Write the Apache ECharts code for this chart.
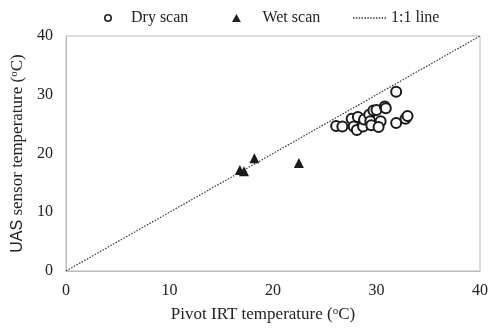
<!DOCTYPE html>
<html><head><meta charset="utf-8">
<script src="https://cdn.jsdelivr.net/npm/echarts@6/dist/echarts.min.js"></script>
<style>html,body{margin:0;padding:0;background:#fff}#c{width:491px;height:328px}</style>
</head><body><div id="c"></div>
<script>
const dryScan = [
  [31.9,30.5],[26.1,24.7],[26.7,24.6],[27.6,25.9],[27.8,24.6],[28.2,26.2],[28.1,24.0],
  [28.7,24.6],[28.8,25.8],[29.3,26.6],[29.4,25.5],[29.7,27.3],[30.0,27.4],[29.5,24.8],
  [30.4,25.5],[30.2,24.5],[30.8,28.0],[30.9,27.7],[31.9,25.2],[32.8,25.9],[33.0,26.4]
];
const wetScan = [[16.8,17.2],[17.2,17.0],[18.2,19.2],[22.5,18.4]];
const oneToOne = [[0,0],[40,40]];
const xTicks = [0,10,20,30,40];
const yTicks = [0,10,20,30,40];
const fontFam = '"Liberation Serif","Times New Roman",serif';
const sansFam = '"Liberation Sans",Arial,sans-serif';

let dots = '';
for (let i = 0; i < 12; i++) { dots += 'M' + (i*2.6) + ',0h1.3v1.3h-1.3z '; }
const dotIcon = 'path://' + dots;
const ringIcon = 'path://M0,5a5,5 0 1,0 10,0a5,5 0 1,0 -10,0Z M2,5a3,3 0 1,1 6,0a3,3 0 1,1 -6,0Z';
const triIcon = 'path://M5,0L10,9L0,9Z';

const legTxt = {fontFamily:fontFam,fontSize:16,color:'#222'};
const supRich = {
  s:{fontSize:11,verticalAlign:'top',lineHeight:11,padding:[0,0,6,0],fontFamily:fontFam,color:'#222'},
  a:{fontSize:16,fontFamily:sansFam,color:'#222'}
};

const chart = echarts.init(document.getElementById('c'));
chart.setOption({
  animation:false,
  textStyle:{fontFamily:fontFam,color:'#222'},
  legend:[
    {top:10,left:104,padding:0,itemWidth:36,itemHeight:8,selectedMode:false,textStyle:legTxt,
     data:[{name:'Dry scan',icon:ringIcon,itemStyle:{color:'#222',borderWidth:0}}]},
    {top:10,left:232,padding:0,itemWidth:42,itemHeight:8,selectedMode:false,textStyle:legTxt,
     data:[{name:'Wet scan',icon:triIcon,itemStyle:{color:'#222'}}]},
    {top:10,left:353,padding:0,itemWidth:33,itemHeight:8,selectedMode:false,textStyle:legTxt,
     data:[{name:'1:1 line',icon:dotIcon,itemStyle:{color:'#333'}}]}
  ],
  grid:{left:66,right:9,top:36,bottom:54,show:true,borderColor:'#bbb',borderWidth:1},
  xAxis:{
    type:'value',min:0,max:40,interval:10,
    name:'Pivot IRT temperature ({s|o}C)',nameLocation:'middle',nameGap:35,
    nameTextStyle:{fontFamily:fontFam,fontSize:17,color:'#222',rich:supRich,padding:[0,20,0,0]},
    axisLine:{show:true,lineStyle:{color:'#bbb'}},axisTick:{show:false},splitLine:{show:false},
    axisLabel:{fontFamily:fontFam,fontSize:16,color:'#222',margin:12,formatter:v=>xTicks.includes(v)?String(v):''}
  },
  yAxis:{
    type:'value',min:0,max:40,interval:10,
    name:'{a|UAS} sensor temperature ({s|o}C)',nameLocation:'middle',nameGap:37,
    nameTextStyle:{fontFamily:fontFam,fontSize:17,color:'#222',rich:supRich},
    axisLine:{show:true,lineStyle:{color:'#bbb'}},axisTick:{show:false},splitLine:{show:false},
    axisLabel:{fontFamily:fontFam,fontSize:16,color:'#222',margin:13,formatter:v=>yTicks.includes(v)?String(v):''}
  },
  series:[
    {name:'1:1 line',type:'line',data:oneToOne,symbol:'none',z:1,
     lineStyle:{color:'#333',width:1.2,type:[1.5,1.5]},itemStyle:{color:'#333'}},
    {name:'Dry scan',type:'scatter',data:dryScan,symbol:'circle',symbolSize:10,z:3,
     itemStyle:{color:'#fff',borderColor:'#1a1a1a',borderWidth:2,opacity:1}},
    {name:'Wet scan',type:'scatter',data:wetScan,symbol:'triangle',symbolSize:10,z:3,
     itemStyle:{color:'#1a1a1a',opacity:1}}
  ]
});
</script></body></html>
